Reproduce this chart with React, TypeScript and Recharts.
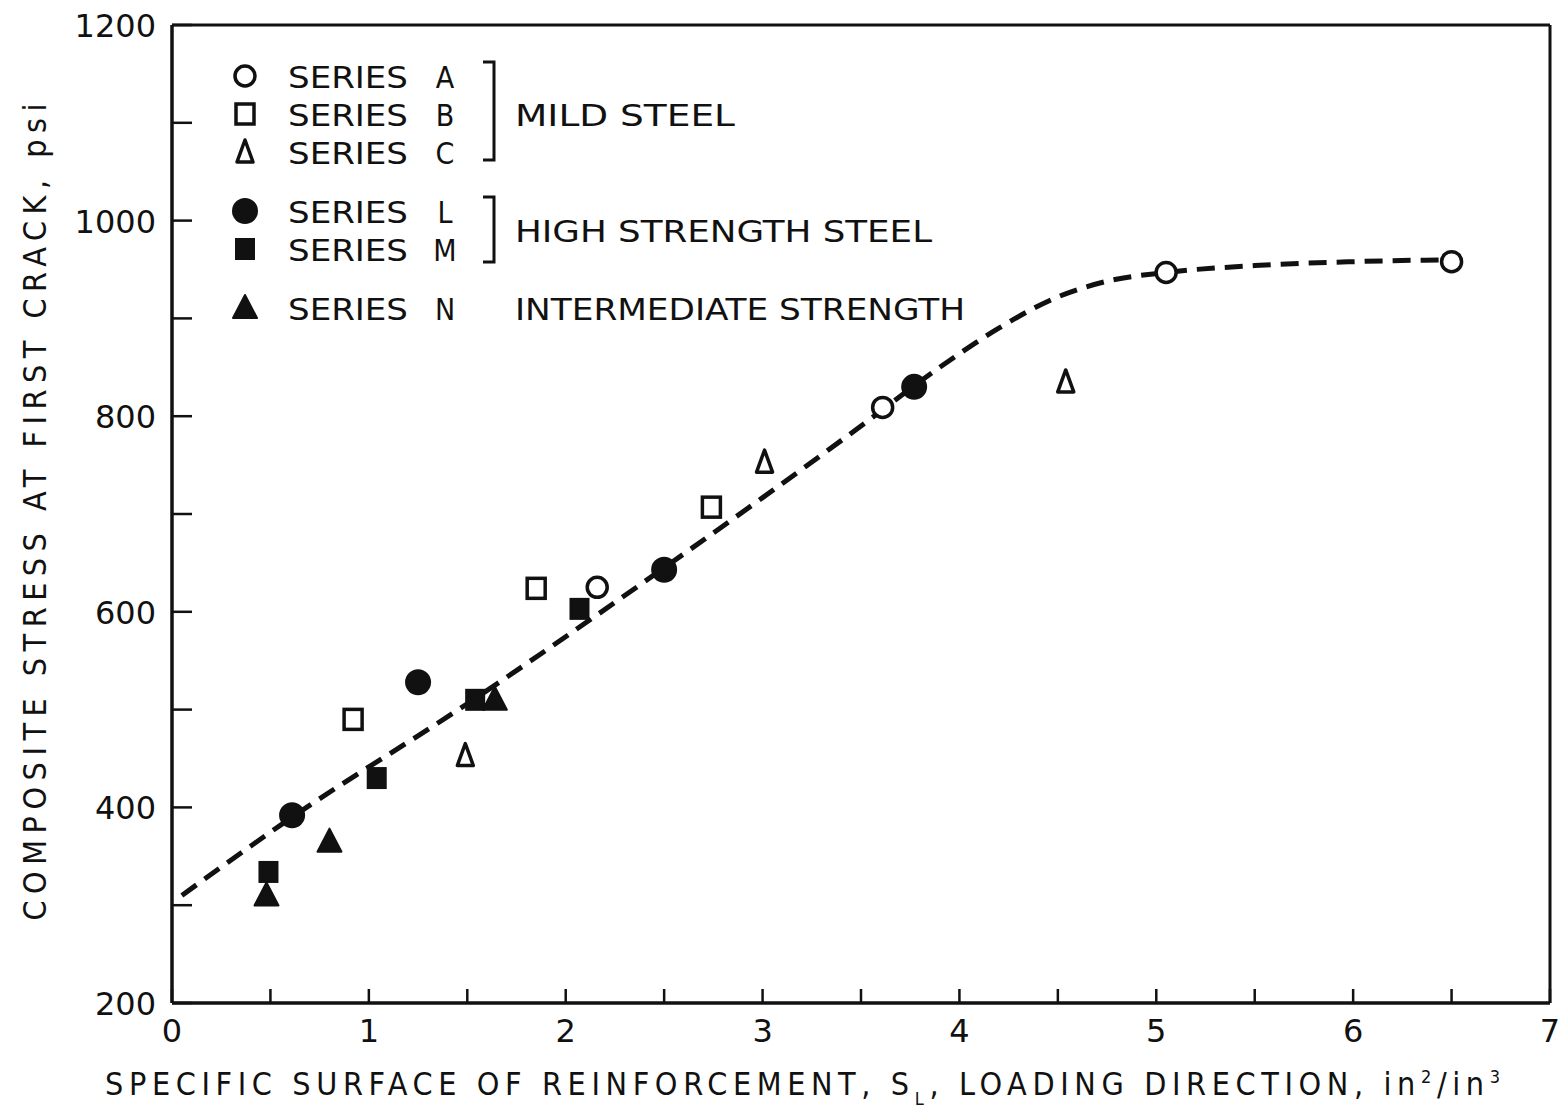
import React from "react";
import {
  ComposedChart,
  Line,
  ReferenceLine,
  Scatter,
  XAxis,
  YAxis,
} from "recharts";

// values: x = specific surface (in2/in3), y = stress (psi)
const seriesA = [
  { x: 2.16, y: 625 },
  { x: 3.61, y: 809 },
  { x: 5.05, y: 947 },
  { x: 6.5, y: 958 },
];
const seriesB = [
  { x: 0.92, y: 490 },
  { x: 1.85, y: 624 },
  { x: 2.74, y: 707 },
];
const seriesC = [
  { x: 1.49, y: 453 },
  { x: 3.01, y: 753 },
  { x: 4.54, y: 835 },
];
const seriesL = [
  { x: 0.61, y: 392 },
  { x: 1.25, y: 528 },
  { x: 2.5, y: 643 },
  { x: 3.77, y: 830 },
];
const seriesM = [
  { x: 0.49, y: 334 },
  { x: 1.04, y: 430 },
  { x: 1.54, y: 510 },
  { x: 2.07, y: 603 },
];
const seriesN = [
  { x: 0.48, y: 310 },
  { x: 0.8, y: 365 },
  { x: 1.64, y: 510 },
];
// hand-drawn trend curve
const trend = [
  { x: 0.05, y: 310 },
  { x: 0.61, y: 390 },
  { x: 1.5, y: 506 },
  { x: 2.5, y: 645 },
  { x: 3.5, y: 790 },
  { x: 3.9, y: 850 },
  { x: 4.2, y: 890 },
  { x: 4.5, y: 922 },
  { x: 4.75, y: 938 },
  { x: 5.05, y: 947 },
  { x: 5.5, y: 954 },
  { x: 6.0, y: 958 },
  { x: 6.5, y: 960 },
];

const xTicks = [0, 0.5, 1, 1.5, 2, 2.5, 3, 3.5, 4, 4.5, 5, 5.5, 6, 6.5, 7];
const yTicks = [200, 300, 400, 500, 600, 700, 800, 900, 1000, 1100, 1200];

const INK = "#111";
const FONT = "'DejaVu Sans', sans-serif";
const COND = "'DejaVu Sans Condensed', 'DejaVu Sans', sans-serif";

const OpenCircle = ({ cx, cy }: any) => (
  <circle cx={cx} cy={cy} r={10} fill="#fff" stroke={INK} strokeWidth={3.5} />
);
const OpenSquare = ({ cx, cy }: any) => (
  <rect x={cx - 9} y={cy - 10} width={18} height={20} fill="#fff" stroke={INK} strokeWidth={3.5} />
);
const OpenTriangle = ({ cx, cy }: any) => (
  <path
    d={`M${cx},${cy - 12} L${cx + 8},${cy + 10} L${cx - 8},${cy + 10} Z`}
    fill="#fff"
    stroke={INK}
    strokeWidth={3.5}
    strokeLinejoin="round"
  />
);
const FilledCircle = ({ cx, cy }: any) => <circle cx={cx} cy={cy} r={13} fill={INK} />;
const FilledSquare = ({ cx, cy }: any) => (
  <rect x={cx - 10} y={cy - 11} width={20} height={22} fill={INK} />
);
const FilledTriangle = ({ cx, cy }: any) => (
  <path
    d={`M${cx},${cy - 13} L${cx + 12},${cy + 10} L${cx - 12},${cy + 10} Z`}
    fill={INK}
    stroke={INK}
    strokeWidth={2}
    strokeLinejoin="round"
  />
);

const legendRows = [
  { letter: "A", shape: OpenCircle },
  { letter: "B", shape: OpenSquare },
  { letter: "C", shape: OpenTriangle },
  { letter: "L", shape: FilledCircle },
  { letter: "M", shape: FilledSquare },
  { letter: "N", shape: FilledTriangle },
];

const XTick = ({ x, y, payload }: any) => {
  const v = payload.value;
  const major = Number.isInteger(v);
  return (
    <g>
      <line x1={x} x2={x} y1={y} y2={y - 14} stroke={INK} strokeWidth={2.5} />
      {major && (
        <text x={x} y={y + 39} textAnchor="middle" fontSize={32} fontFamily={FONT} fill={INK}>
          {v}
        </text>
      )}
    </g>
  );
};

const YTick = ({ x, y, payload }: any) => {
  const v = payload.value;
  const major = v % 200 === 0;
  return (
    <g>
      <line x1={x} x2={x + 20} y1={y} y2={y} stroke={INK} strokeWidth={2.5} />
      {major && (
        <text x={x - 16} y={y + 12} textAnchor="end" fontSize={32} fontFamily={FONT} fill={INK}>
          {v}
        </text>
      )}
    </g>
  );
};

const LegendBox = () => {
  const left = 220;
  const top = 50;
  const rowY = [26, 64, 102, 161, 199, 258];
  const bracket = (y1: number, y2: number) => (
    <path
      d={`M${left + 263},${top + y1} L${left + 274},${top + y1} L${left + 274},${top + y2} L${left + 263},${top + y2}`}
      fill="none"
      stroke={INK}
      strokeWidth={3}
    />
  );
  const txt = { fontSize: 30, fontFamily: COND, fill: INK } as const;
  return (
    <g>
      {legendRows.map((r, i) => {
        const S = r.shape;
        const cy = top + rowY[i];
        return (
          <g key={r.letter}>
            <S cx={left + 25} cy={cy} />
            <text x={left + 68} y={cy + 12} textLength={120} lengthAdjust="spacingAndGlyphs" {...txt}>
              SERIES
            </text>
            <text x={left + 225} y={cy + 12} textAnchor="middle" {...txt}>
              {r.letter}
            </text>
          </g>
        );
      })}
      {bracket(12, 110)}
      {bracket(147, 212)}
      <text x={left + 295} y={top + 76} textLength={220} lengthAdjust="spacingAndGlyphs" {...txt}>
        MILD STEEL
      </text>
      <text x={left + 295} y={top + 192} textLength={417} lengthAdjust="spacingAndGlyphs" {...txt}>
        HIGH STRENGTH STEEL
      </text>
      <text x={left + 295} y={top + 270} textLength={450} lengthAdjust="spacingAndGlyphs" {...txt}>
        INTERMEDIATE STRENGTH
      </text>
    </g>
  );
};

const XLabel = () => (
  <text x={105} y={1095} textLength={1395} lengthAdjust="spacing" fontSize={32} fontFamily={COND} fill={INK}>
    SPECIFIC SURFACE OF REINFORCEMENT, S
    <tspan fontSize={18} dy={10}>L</tspan>
    <tspan dy={-10}>, LOADING DIRECTION, in</tspan>
    <tspan fontSize={18} dy={-12}>2</tspan>
    <tspan dy={12}>/in</tspan>
    <tspan fontSize={18} dy={-12}>3</tspan>
  </text>
);

const YLabel = () => (
  <text
    x={0}
    y={0}
    transform="translate(46,512) rotate(-90)"
    textAnchor="middle"
    textLength={817}
    lengthAdjust="spacing"
    fontSize={32}
    fontFamily={COND}
    fill={INK}
  >
    COMPOSITE STRESS AT FIRST CRACK, psi
  </text>
);

export default function App() {
  return (
    <div style={{ position: "absolute", left: 0, top: 0, background: "#fff" }}>
      <ComposedChart width={1564} height={1109} margin={{ top: 25, right: 14, bottom: 0, left: 0 }}>
        <XAxis
          type="number"
          dataKey="x"
          domain={[0, 7]}
          ticks={xTicks}
          interval={0}
          height={106}
          tickSize={0}
          tickMargin={0}
          tickLine={false}
          axisLine={{ stroke: INK, strokeWidth: 3.5 }}
          tick={<XTick />}
          allowDataOverflow
        />
        <YAxis
          type="number"
          dataKey="y"
          domain={[200, 1200]}
          ticks={yTicks}
          interval={0}
          width={172}
          tickSize={0}
          tickMargin={0}
          tickLine={false}
          axisLine={{ stroke: INK, strokeWidth: 3.5 }}
          tick={<YTick />}
          allowDataOverflow
        />
        {/* frame: top and right edges */}
        <ReferenceLine y={1200} stroke={INK} strokeWidth={3} ifOverflow="visible" />
        <ReferenceLine x={7} stroke={INK} strokeWidth={3} ifOverflow="visible" />
        <Line
          data={trend}
          dataKey="y"
          type="monotone"
          stroke={INK}
          strokeWidth={5}
          strokeDasharray="18 10"
          dot={false}
          isAnimationActive={false}
        />
        <Scatter data={seriesA} dataKey="y" shape={OpenCircle} isAnimationActive={false} />
        <Scatter data={seriesB} dataKey="y" shape={OpenSquare} isAnimationActive={false} />
        <Scatter data={seriesC} dataKey="y" shape={OpenTriangle} isAnimationActive={false} />
        <Scatter data={seriesL} dataKey="y" shape={FilledCircle} isAnimationActive={false} />
        <Scatter data={seriesM} dataKey="y" shape={FilledSquare} isAnimationActive={false} />
        <Scatter data={seriesN} dataKey="y" shape={FilledTriangle} isAnimationActive={false} />
        <LegendBox />
        <XLabel />
        <YLabel />
      </ComposedChart>
    </div>
  );
}
